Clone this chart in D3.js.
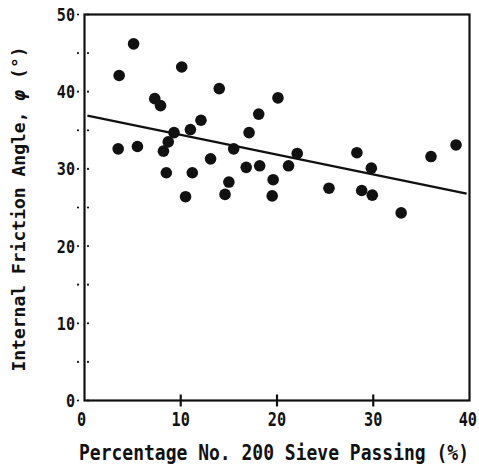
<!DOCTYPE html>
<html>
<head>
<meta charset="utf-8">
<script src="https://cdn.jsdelivr.net/npm/d3@7"></script>
<style>
  body{margin:0;background:#fff;}
  svg{display:block;}
</style>
</head>
<body>
<svg width="479" height="468"></svg>
<script>
// fines content (%) and friction angle (deg)
const finesPct = [5.1, 3.6, 10.1, 14.0, 7.3, 7.9, 12.1, 11.0, 9.3, 8.7, 8.2, 3.5, 5.5, 13.1, 8.5, 11.2,
                  10.5, 15.0, 14.6, 15.5, 20.1, 18.1, 17.1, 22.1, 16.8, 18.2, 21.2, 19.6, 19.5, 25.4,
                  28.3, 29.8, 28.8, 29.9, 32.9, 36.0, 38.6];
const phiDeg = [46.2, 42.1, 43.2, 40.4, 39.1, 38.2, 36.3, 35.1, 34.7, 33.5, 32.3, 32.6, 32.9, 31.3, 29.5, 29.5,
                26.4, 28.3, 26.7, 32.6, 39.2, 37.1, 34.7, 32.0, 30.2, 30.4, 30.4, 28.6, 26.5, 27.5,
                32.1, 30.1, 27.2, 26.6, 24.3, 31.6, 33.1];
// regression line end points
const fitX = [0.3, 39.7];
const fitY = [36.9, 26.8];
const xTicks = [0, 10, 20, 30, 40];
const yTicks = [0, 10, 20, 30, 40, 50];
const yMinor = [5, 15, 25, 35, 45];

const svg = d3.select("svg");
const mLeft = 84.5, mRight = 469.5, mTop = 14.5, mBottom = 400.5;

const x = d3.scaleLinear().domain([0, 40]).range([mLeft, mRight]);
const y = d3.scaleLinear().domain([0, 50]).range([mBottom, mTop]);

const ink = "#111";
const mono = "'DejaVu Sans Mono', monospace";

// frame
svg.append("rect")
   .attr("x", mLeft).attr("y", mTop)
   .attr("width", mRight - mLeft).attr("height", mBottom - mTop)
   .attr("fill", "none").attr("stroke", ink).attr("stroke-width", 2.2);

// y ticks: pairs of dots either side of the axis
const yDots = yTicks.concat(yMinor);
[-6.5, 3.5].forEach(off => {
  svg.append("g").selectAll("circle")
     .data(yDots).enter().append("circle")
     .attr("cx", mLeft + off).attr("cy", d => y(d))
     .attr("r", 1.1).attr("fill", ink);
});

svg.append("g").selectAll("text")
   .data(yTicks).enter().append("text")
   .attr("transform", d => `translate(75,${y(d)}) scale(0.84,1)`)
   .attr("dy", "0.36em")
   .attr("text-anchor", "end")
   .attr("font-family", mono).attr("font-size", 18).attr("font-weight", "bold")
   .attr("fill", ink)
   .text(d => d);

// x ticks
svg.append("g").selectAll("line")
   .data([10, 20, 30]).enter().append("line")
   .attr("x1", d => x(d)).attr("x2", d => x(d))
   .attr("y1", mBottom - 6).attr("y2", mBottom + 6)
   .attr("stroke", ink).attr("stroke-width", 2.2);

svg.append("g").selectAll("text")
   .data(xTicks).enter().append("text")
   .attr("transform", d => {
     const px = d === 0 ? x(d) - 3 : d === 40 ? 477 : x(d);
     return `translate(${px},426) scale(0.8,1)`;
   })
   .attr("text-anchor", d => d === 40 ? "end" : "middle")
   .attr("font-family", mono).attr("font-size", 19).attr("font-weight", "bold")
   .attr("fill", ink)
   .text(d => d);

// regression line
svg.append("path")
   .datum(d3.zip(fitX, fitY))
   .attr("d", d3.line().x(d => x(d[0])).y(d => y(d[1])))
   .attr("stroke", ink).attr("stroke-width", 2.4).attr("fill", "none");

// data points
svg.append("g").selectAll("circle")
   .data(d3.zip(finesPct, phiDeg)).enter().append("circle")
   .attr("cx", d => x(d[0])).attr("cy", d => y(d[1]))
   .attr("r", 5.8).attr("fill", ink);

// axis titles
svg.append("text")
   .attr("transform", "translate(274,460) scale(0.878,1)")
   .attr("text-anchor", "middle")
   .attr("font-family", mono).attr("font-size", 20.5).attr("font-weight", "bold")
   .attr("fill", ink)
   .text("Percentage No. 200 Sieve Passing (%)");

const yt = svg.append("text")
   .attr("transform", "translate(25,209) rotate(-90)")
   .attr("text-anchor", "middle")
   .attr("font-family", mono).attr("font-size", 18).attr("font-weight", "bold")
   .attr("fill", ink);
yt.append("tspan").text("Internal Friction Angle, ");
yt.append("tspan").attr("font-style", "italic").text("\u03c6");
yt.append("tspan").text(" (\u00b0)");
</script>
</body>
</html>
